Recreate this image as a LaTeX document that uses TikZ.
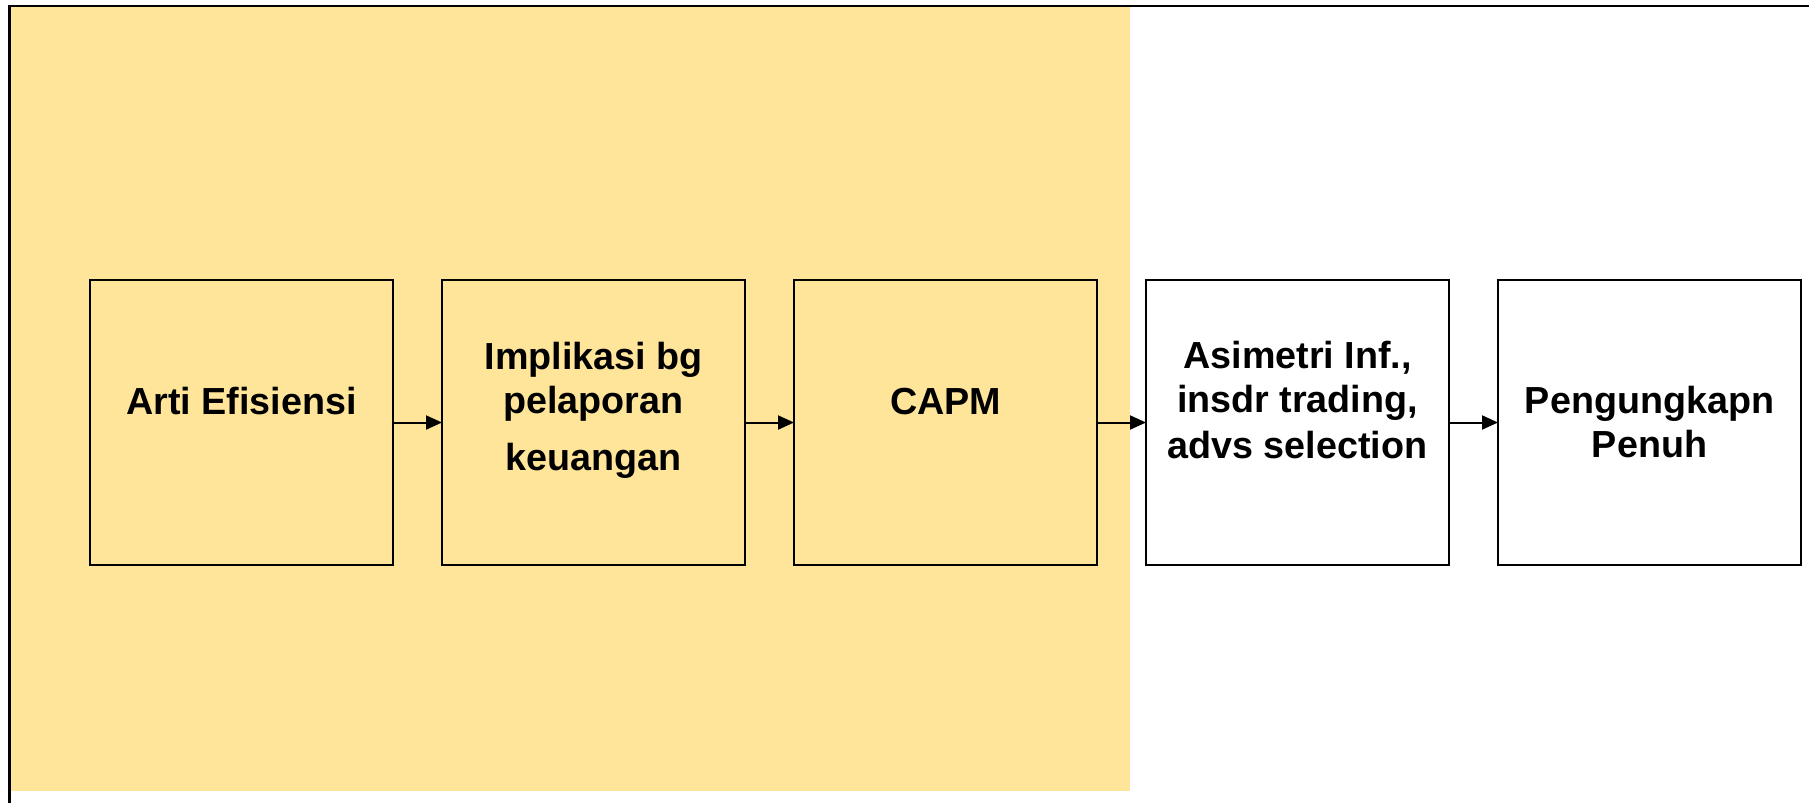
\documentclass[tikz,border=0pt]{standalone}
\usepackage{fontspec}
\setmainfont{Liberation Sans}
\usetikzlibrary{arrows.meta,positioning}
\definecolor{pasar}{RGB}{255,229,153}
\tikzset{stage/.style={draw,
    line width=2pt,
    minimum width=303pt,
    minimum height=285pt,
    inner sep=0pt, outer sep=0pt
  },
  stage text/.style={font=\fontsize{37.7}{44}\selectfont\bfseries,
    align=center, anchor=base, inner sep=0pt
  },
  flow/.style={line width=2pt, -{Triangle[length=16pt,width=14pt]}}
}

\begin{document}
\begin{tikzpicture}[x=1pt,y=-1pt]
    \useasboundingbox (0,0) rectangle (1809,803);
    \fill[pasar] (10,7) rectangle (1130,791);
    \draw[line width=2.5pt] (1809,6) -- (9.5,6) -- (9.5,803);
    \node[stage] (arti) at (241.5,422.5) {};
    \node[stage, right=49pt of arti] (implikasi) {};
    \node[stage, right=49pt of implikasi] (capm) {};
    \node[stage, right=49pt of capm] (asimetri) {};
    \node[stage, right=49pt of asimetri] (penuh) {};
    % base = baseline of the last line
    \node[stage text] (arti-t) at ([yshift=8.5pt]arti.center) {Arti Efisiensi};
    \node[stage text] (implikasi-t) at ([yshift=-47.5pt]implikasi.center) {Implikasi bg\\ pelaporan\\[13pt] keuangan};
    \node[stage text] (capm-t) at ([yshift=8.5pt]capm.center) {CAPM};
    \node[stage text] (asimetri-t) at ([yshift=-35.5pt]asimetri.center) {Asimetri Inf.,\\ insdr trading,\\[2pt] advs selection};
    \node[stage text] (penuh-t) at ([yshift=-34.5pt]penuh.center) {Pengungkapn\\ Penuh};
    \foreach \a/\b in {arti/implikasi, implikasi/capm, capm/asimetri, asimetri/penuh}
        \draw[flow] (\a) -- (\b);
\end{tikzpicture}
\end{document}
